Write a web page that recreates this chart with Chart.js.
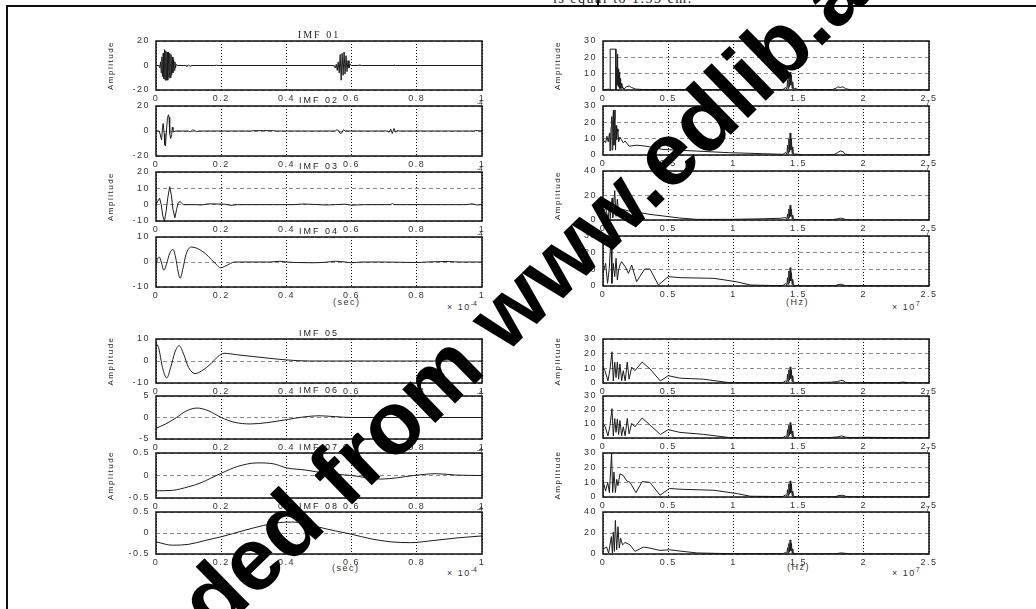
<!DOCTYPE html>
<html>
<head>
<meta charset="utf-8">
<script src="https://cdn.jsdelivr.net/npm/chart.js@4.4.1/dist/chart.umd.min.js"></script>
<style>
  body { margin: 0; width: 1036px; height: 609px; overflow: hidden; position: relative; background: #fff;
         font-family: "Liberation Sans", Arial, sans-serif; }
  canvas { position: absolute; }
  .lbl { position: absolute; font-size: 9px; color: #333; white-space: nowrap; letter-spacing: 1.5px; }
  .lbl sup { font-size: 7px; vertical-align: 4px; letter-spacing: 0; }
  .rule { position: absolute; background: #111; }
  #topnote { position: absolute; left: 553px; top: -9px; font: 14px "Liberation Serif", "Times New Roman", serif;
             color: #222; letter-spacing: 1.5px; white-space: nowrap; }
  #wm { position: absolute; left: 0; top: 0; z-index: 5; }
</style>
</head>
<body>
<div id="topnote">is equal to 1.53 cm.</div>
<div class="rule" style="left:6px;top:5px;width:1030px;height:2px"></div>
<div class="rule" style="left:6px;top:5px;width:2px;height:604px"></div>
<div class="rule" style="left:597px;top:0;width:1.5px;height:6px"></div>

<div class="lbl" style="left:333px;top:297px">(sec)</div>
<div class="lbl" style="left:447px;top:300px">× 10<sup>-4</sup></div>
<div class="lbl" style="left:786px;top:297px">(Hz)</div>
<div class="lbl" style="left:892px;top:300px">× 10<sup>7</sup></div>
<div class="lbl" style="left:332px;top:563px">(sec)</div>
<div class="lbl" style="left:447px;top:566px">× 10<sup>-4</sup></div>
<div class="lbl" style="left:787px;top:562px">(Hz)</div>
<div class="lbl" style="left:892px;top:566px">× 10<sup>7</sup></div>

<svg id="wm" width="1036" height="609">
  <g font-family="Liberation Sans, Arial, sans-serif" font-weight="bold" font-size="89" fill="#000">
    <text x="215" y="638" transform="rotate(-44.3 215 638)">ded from www.edlib.asia</text>
    <text x="215" y="638" text-anchor="end" transform="rotate(-44.3 215 638)">Downloa</text>
  </g>
</svg>

<script>
// Ejes comunes
const timeTicks = [0, 0.2, 0.4, 0.6, 0.8, 1];          // x 1e-4 s
const freqTicks = [0, 0.5, 1, 1.5, 2, 2.5];            // x 1e7 Hz
const imfTitles = ['IMF 01', 'IMF 02', 'IMF 03', 'IMF 04', 'IMF 05', 'IMF 06', 'IMF 07', 'IMF 08'];
const imfYTicks = [[-20, 0, 20], [-20, 0, 20], [-10, 0, 10, 20], [-10, 0, 10], [-10, 0, 10], [-5, 0, 5], [-0.5, 0, 0.5], [-0.5, 0, 0.5]];
const specYTicks = [[0, 10, 20, 30], [0, 10, 20, 30], [0, 20, 40], [0, 10, 20, 30], [0, 10, 20, 30], [0, 10, 20, 30], [0, 10, 20, 30], [0, 20, 40]];

// Señales IMF (tiempo, amplitud)
const imf01 = [[0,0],[0.008,0],[0.012,-2],[0.014,3],[0.016,-6],[0.018,7],[0.020,-9],[0.022,10],[0.024,-11],[0.026,13],[0.028,-12],[0.030,12],[0.032,-12],[0.034,11],[0.036,-12],[0.038,11],[0.040,-10],[0.042,10],[0.044,-10],[0.046,9],[0.048,-8],[0.050,7],[0.052,-6],[0.054,5],[0.056,-4],[0.058,3],[0.060,-2],[0.062,1],[0.066,0],[0.09,0],[0.095,-0.8],[0.10,0.3],[0.105,-0.6],[0.11,0],[0.18,0],[0.185,0.3],[0.19,0],[0.545,0],[0.550,-2],[0.553,1],[0.556,-4],[0.559,3],[0.562,-6],[0.565,9],[0.568,-12],[0.571,10],[0.574,-8],[0.577,11],[0.580,-7],[0.583,8],[0.586,-5],[0.589,4],[0.592,-2],[0.595,1],[0.60,0],[0.62,0],[0.625,0.4],[0.63,0],[0.73,0],[0.732,0.4],[0.735,0],[1,0]];
const imf02 = [[0,0],[0.01,0],[0.014,-4],[0.017,-7],[0.020,3],[0.022,6],[0.025,-2],[0.027,-11],[0.029,-12],[0.032,0],[0.035,10],[0.038,13],[0.040,11],[0.042,-2],[0.045,-6],[0.048,-3],[0.050,3],[0.052,1],[0.055,-1],[0.058,0],[0.10,0],[0.105,-0.7],[0.112,0.8],[0.118,0.5],[0.125,-0.6],[0.13,0],[0.29,0],[0.30,0.3],[0.33,0.3],[0.36,0.3],[0.37,0],[0.55,0],[0.555,1],[0.56,0.5],[0.565,-2],[0.57,-1.5],[0.575,1],[0.58,0],[0.71,0],[0.715,-1],[0.72,1.5],[0.725,-2],[0.73,2],[0.735,-1],[0.74,0.5],[0.745,0],[0.975,0],[0.98,0.4],[1,0]];
const imf03 = [[0,0],[0.005,2],[0.011,4],[0.016,0],[0.021,-7],[0.026,-10],[0.031,-4],[0.036,4],[0.042,11],[0.047,6],[0.052,-3],[0.058,-8],[0.063,-3],[0.068,1],[0.074,2],[0.078,1],[0.084,0],[0.12,0],[0.14,-0.2],[0.16,0.5],[0.19,0.4],[0.21,0.3],[0.23,-0.4],[0.25,0],[0.42,0],[0.45,0.4],[0.48,0.2],[0.52,-0.2],[0.55,0],[0.58,0.3],[0.60,-0.3],[0.64,0],[0.72,0],[0.725,0.8],[0.73,0],[0.95,0],[0.97,0.5],[0.985,-0.2],[1,0]];
const imf04 = [[0,-1.5],[0.004,1],[0.010,2],[0.016,0],[0.024,-3.3],[0.032,-1],[0.042,3.5],[0.052,5],[0.060,2],[0.068,-4],[0.074,-6.5],[0.082,-3],[0.092,3],[0.108,6],[0.125,5.5],[0.15,3.5],[0.17,1],[0.185,-1],[0.198,-2.3],[0.215,-1.5],[0.242,0],[0.35,0],[0.38,0.3],[0.40,0],[0.43,-0.2],[0.48,-0.3],[0.52,-0.1],[0.55,0.3],[0.58,0],[0.60,-0.3],[0.63,0],[0.70,0],[0.75,-0.1],[0.8,-0.2],[0.83,0],[0.9,0.2],[0.93,0],[1,0]];
const imf05 = [[0,8],[0.008,6],[0.02,-3],[0.033,-7.7],[0.045,-3],[0.058,4],[0.071,7],[0.085,3],[0.10,-3],[0.12,-5.7],[0.14,-4.5],[0.17,-1],[0.19,2],[0.209,3.5],[0.25,2.8],[0.30,2],[0.35,1.2],[0.40,0.5],[0.47,0],[1,0]];
const imf06 = [[0,-2.5],[0.03,-1.5],[0.063,0],[0.09,1.4],[0.125,2.2],[0.16,1.6],[0.2,0],[0.24,-1.1],[0.29,-1.5],[0.34,-1.2],[0.40,-0.5],[0.45,0.1],[0.50,0.4],[0.55,0.2],[0.60,0],[1,0]];
const imf07 = [[0,-0.34],[0.05,-0.33],[0.10,-0.25],[0.135,-0.17],[0.20,0.05],[0.25,0.2],[0.31,0.28],[0.36,0.26],[0.40,0.17],[0.46,0.12],[0.52,0.05],[0.60,0],[0.69,-0.08],[0.74,-0.05],[0.79,0],[0.86,0.04],[0.92,0.01],[1,0]];
const imf08 = [[0,-0.21],[0.05,-0.29],[0.10,-0.27],[0.15,-0.18],[0.20,-0.09],[0.27,0.06],[0.33,0.18],[0.38,0.25],[0.42,0.26],[0.46,0.23],[0.50,0.14],[0.55,0.05],[0.60,-0.03],[0.66,-0.14],[0.72,-0.21],[0.78,-0.23],[0.85,-0.18],[0.92,-0.12],[1,-0.07]];

// Espectros (frecuencia, amplitud)
const spec01 = [[0,0],[0.02,0.3],[0.045,0.5],[0.054,0],[0.055,25],[0.098,25],[0.099,0],[0.103,6],[0.106,14],[0.108,3],[0.110,22],[0.112,4],[0.114,15],[0.117,2],[0.120,13],[0.123,3],[0.126,11],[0.129,1],[0.132,7],[0.135,1],[0.14,4],[0.145,1],[0.15,2],[0.16,0.5],[0.18,2],[0.2,2.5],[0.22,1.5],[0.25,0.6],[0.3,0.3],[0.6,0.3],[1.0,0.2],[1.38,0.3],[1.40,1.5],[1.41,0.5],[1.415,6],[1.42,1],[1.425,9],[1.43,2],[1.435,11],[1.44,3],[1.445,9],[1.45,1],[1.455,5],[1.46,0.5],[1.47,1],[1.5,0.2],[1.76,0.3],[1.79,1.2],[1.80,2],[1.82,1.5],[1.84,2],[1.86,0.8],[1.9,0.1],[2.5,0]];
const spec02 = [[0,9.5],[0.02,7.5],[0.03,11.5],[0.04,8],[0.05,13.5],[0.055,2.4],[0.062,17],[0.067,23.5],[0.07,3],[0.075,20],[0.08,27.5],[0.084,6],[0.088,22],[0.092,27.5],[0.096,3],[0.10,18],[0.105,9.5],[0.11,16],[0.115,14.5],[0.12,8],[0.13,11],[0.14,9.5],[0.155,7.5],[0.17,8.5],[0.2,5.4],[0.26,6],[0.33,5.4],[0.46,3.4],[0.72,2.4],[0.97,1.4],[1.23,0.8],[1.38,0.4],[1.40,1.5],[1.41,0.5],[1.415,6],[1.42,1],[1.425,10],[1.43,2],[1.435,13.5],[1.44,3],[1.445,10],[1.45,1],[1.455,5],[1.46,0.5],[1.48,0.6],[1.54,0],[1.77,0.2],[1.80,1.5],[1.82,2.5],[1.84,2],[1.86,0.5],[1.9,0],[2.5,0]];
const spec03 = [[0,6],[0.02,10],[0.04,0.5],[0.05,14],[0.055,1],[0.07,18],[0.075,2],[0.09,24],[0.1,3],[0.11,17],[0.12,6],[0.15,8.7],[0.2,7.3],[0.28,6],[0.36,4.6],[0.46,3.3],[0.59,1.6],[0.72,0.5],[0.97,0.5],[1.23,1],[1.36,1.4],[1.40,2],[1.41,0.5],[1.415,5],[1.42,1],[1.425,9],[1.43,2],[1.435,12],[1.44,3],[1.445,9],[1.45,1],[1.455,4],[1.46,0.5],[1.48,0.5],[1.52,0],[1.76,0.3],[1.8,1],[1.82,1.5],[1.84,1.2],[1.86,0.3],[1.9,0],[2.5,0]];
const spec04 = [[0,7.6],[0.02,13.6],[0.035,1.6],[0.048,10.6],[0.062,30],[0.068,1.6],[0.079,13.6],[0.09,5.6],[0.1,16.6],[0.11,3.6],[0.12,9.6],[0.13,12.6],[0.143,14.6],[0.17,11.6],[0.195,7.6],[0.22,12.6],[0.258,2.6],[0.32,10.2],[0.36,10.2],[0.425,0.6],[0.5,5.6],[0.59,5],[0.85,4.6],[1.02,2.6],[1.13,0.6],[1.3,0.3],[1.38,0.3],[1.40,1.5],[1.41,0.5],[1.415,5],[1.42,1],[1.425,9],[1.43,2],[1.435,11],[1.44,3],[1.445,8],[1.45,1],[1.455,4],[1.46,0.5],[1.5,0.1],[1.78,0.2],[1.81,1],[1.83,1],[1.86,0.2],[2.5,0]];
const spec05 = [[0,10.8],[0.015,8.4],[0.038,1.4],[0.054,9.6],[0.069,21.3],[0.079,1.4],[0.09,14.3],[0.1,3.7],[0.11,14.3],[0.12,2.6],[0.13,13],[0.143,1.4],[0.155,8.4],[0.17,1.4],[0.186,14.3],[0.2,2.6],[0.22,10.8],[0.245,8.4],[0.30,14.3],[0.36,9.6],[0.44,1.4],[0.50,5],[0.59,3.3],[0.77,2.6],[0.97,0.2],[1.2,0.2],[1.38,0.3],[1.40,1.5],[1.41,0.5],[1.415,6],[1.42,1],[1.425,9],[1.43,2],[1.435,11],[1.44,3],[1.445,9],[1.45,1],[1.455,5],[1.46,0.5],[1.5,0.2],[1.6,0.3],[1.75,0.5],[1.8,1],[1.82,1.6],[1.84,1.8],[1.86,0.5],[1.9,0.2],[2.0,0.3],[2.25,0.2],[2.3,0.6],[2.35,0.2],[2.5,0]];
const spec06 = [[0,10.5],[0.015,8.5],[0.038,1.5],[0.054,9],[0.069,21],[0.079,1.5],[0.09,14],[0.1,4],[0.11,13.5],[0.12,2.5],[0.13,12.5],[0.143,1.5],[0.155,8],[0.17,1.5],[0.186,14],[0.2,3],[0.22,10.5],[0.245,8],[0.30,14.3],[0.36,9.3],[0.44,2.5],[0.50,6],[0.59,4],[0.77,2.6],[0.97,0.3],[1.2,0.2],[1.38,0.3],[1.40,1.5],[1.41,0.5],[1.415,6],[1.42,1],[1.425,9],[1.43,2],[1.435,11],[1.44,3],[1.445,9],[1.45,1],[1.455,5],[1.46,0.5],[1.5,0.2],[1.75,0.4],[1.8,0.8],[1.83,1.5],[1.86,0.6],[1.9,0.3],[2.0,0.5],[2.2,0.3],[2.5,0.2]];
const spec07 = [[0,11],[0.02,4],[0.036,10],[0.049,3],[0.066,30],[0.074,3],[0.084,17],[0.095,3],[0.105,12],[0.115,7.7],[0.13,15.8],[0.156,14.6],[0.182,11],[0.207,10],[0.253,3],[0.30,10.5],[0.36,10],[0.437,1.2],[0.509,5.8],[0.59,5.3],[0.85,4.6],[1.03,2.3],[1.13,0.5],[1.38,0.3],[1.40,1.5],[1.41,0.5],[1.415,5],[1.42,1],[1.425,9],[1.43,2],[1.435,11],[1.44,3],[1.445,9],[1.45,1],[1.455,4],[1.46,0.5],[1.5,0.1],[1.78,0.2],[1.81,1],[1.84,1.2],[1.87,0.2],[2.5,0]];
const spec08 = [[0,4.7],[0.028,6.6],[0.043,1],[0.054,8.7],[0.064,16.6],[0.072,1],[0.079,21],[0.087,2.5],[0.095,32],[0.105,4],[0.115,26],[0.125,5.6],[0.135,15],[0.15,8.7],[0.169,11],[0.207,8.7],[0.245,2.5],[0.31,6.6],[0.36,5.6],[0.437,3.4],[0.51,4],[0.59,2.8],[0.72,1],[0.97,0.3],[1.38,0.3],[1.40,1.5],[1.41,0.5],[1.415,6],[1.42,1],[1.425,10],[1.43,2],[1.435,13.4],[1.44,3],[1.445,10],[1.45,1],[1.455,5],[1.46,0.5],[1.5,0.1],[1.79,0.2],[1.82,1],[1.85,0.8],[1.88,0.1],[2.5,0]];

const imfData = [imf01, imf02, imf03, imf04, imf05, imf06, imf07, imf08];
const specData = [spec01, spec02, spec03, spec04, spec05, spec06, spec07, spec08];

// Posición de cada recuadro [izq, arriba, der, abajo]
const leftBoxes = [[156,41,482,90],[156,106,482,156],[156,172,482,221],[156,237,482,287],[156,339,482,383],[156,396,482,439],[156,453,482,498],[156,512,482,554]];
const rightBoxes = [[603,41,929,90],[603,106,929,155],[603,171,929,220],[603,236,929,286],[603,339,929,383],[603,396,929,438],[603,453,929,497],[603,512,929,554]];

const PAD_L = 50, PAD_T = 16, PAD_R = 20, PAD_B = 22;
const tickFont = { family: '"Liberation Sans", Arial, sans-serif', size: 9 };
const fmt = v => String(Math.round(v * 100) / 100);

// Marco, título y exponente recortado
const framePlugin = {
  id: 'frame',
  beforeDraw(chart) { chart.ctx.letterSpacing = '1.5px'; },
  afterDraw(chart, args, o) {
    const { ctx, chartArea: a } = chart;
    ctx.save();
    ctx.strokeStyle = '#111';
    ctx.lineWidth = 1.5;
    ctx.strokeRect(a.left, a.top, a.right - a.left, a.bottom - a.top);
    ctx.fillStyle = '#222';
    if (o.title) {
      ctx.font = (o.serif ? '10px "Liberation Serif", serif' : '9px "Liberation Sans", Arial, sans-serif');
      ctx.letterSpacing = '2px';
      ctx.textAlign = 'center';
      ctx.textBaseline = 'alphabetic';
      ctx.fillText(o.title, (a.left + a.right) / 2, a.top - 3);
    }
    if (o.exp) {
      ctx.font = '7px "Liberation Sans", Arial, sans-serif';
      ctx.letterSpacing = '0px';
      ctx.textAlign = 'right';
      ctx.textBaseline = 'alphabetic';
      ctx.fillText(o.exp, a.right + 1, a.top - 1);
    }
    ctx.restore();
  }
};

function makePanel(box, data, xTicks, yTicks, opts) {
  const [l, t, r, b] = box;
  const W = r - l + PAD_L + PAD_R, H = b - t + PAD_T + PAD_B;
  const cv = document.createElement('canvas');
  cv.width = W; cv.height = H;
  cv.style.left = (l - PAD_L) + 'px';
  cv.style.top = (t - PAD_T) + 'px';
  cv.style.width = W + 'px';
  cv.style.height = H + 'px';
  document.body.insertBefore(cv, document.getElementById('wm'));

  new Chart(cv, {
    type: 'line',
    data: {
      datasets: [{
        data: data.map(([x, y]) => ({ x, y })),
        borderColor: '#1c1c1c',
        borderWidth: 1,
        pointRadius: 0,
        fill: false,
        tension: opts.smooth ? 0.4 : 0,
        cubicInterpolationMode: opts.smooth ? 'monotone' : 'default'
      }]
    },
    options: {
      responsive: false,
      animation: false,
      events: [],
      layout: { padding: { left: 0, top: PAD_T, right: PAD_R, bottom: 0 } },
      plugins: {
        legend: { display: false },
        tooltip: { enabled: false },
        frame: { title: opts.title, serif: opts.serif, exp: opts.exp }
      },
      scales: {
        x: {
          type: 'linear',
          min: xTicks[0], max: xTicks[xTicks.length - 1],
          afterBuildTicks: s => { s.ticks = xTicks.map(v => ({ value: v })); },
          afterFit: s => { s.height = PAD_B; },
          grid: { color: '#000', lineWidth: 1, drawTicks: false },
          border: { display: false, dash: [1, 2] },
          ticks: { padding: 3, color: '#333', font: tickFont, autoSkip: false, maxRotation: 0, callback: fmt }
        },
        y: {
          min: yTicks[0], max: yTicks[yTicks.length - 1],
          afterBuildTicks: s => { s.ticks = yTicks.map(v => ({ value: v })); },
          afterFit: s => { s.width = PAD_L; },
          grid: { color: '#8c8c8c', lineWidth: 1, drawTicks: false },
          border: { display: false, dash: [4, 3] },
          ticks: { padding: 6, color: '#333', font: tickFont, autoSkip: false, callback: fmt },
          title: {
            display: !!opts.amp, text: 'Amplitude', color: '#222', padding: 0,
            font: { family: '"Liberation Sans Narrow", "Arial Narrow", "Liberation Sans", sans-serif', size: 8 }
          }
        }
      }
    },
    plugins: [framePlugin]
  });
}

imfData.forEach((d, i) => {
  makePanel(leftBoxes[i], d, timeTicks, imfYTicks[i], {
    title: imfTitles[i], serif: i === 0, amp: i % 2 === 0,
    exp: i % 4 === 0 ? '' : '-4', smooth: i >= 3
  });
});
specData.forEach((d, i) => {
  makePanel(rightBoxes[i], d, freqTicks, specYTicks[i], {
    amp: i % 2 === 0, exp: i % 4 === 0 ? '' : '7', smooth: false
  });
});
</script>
</body>
</html>
